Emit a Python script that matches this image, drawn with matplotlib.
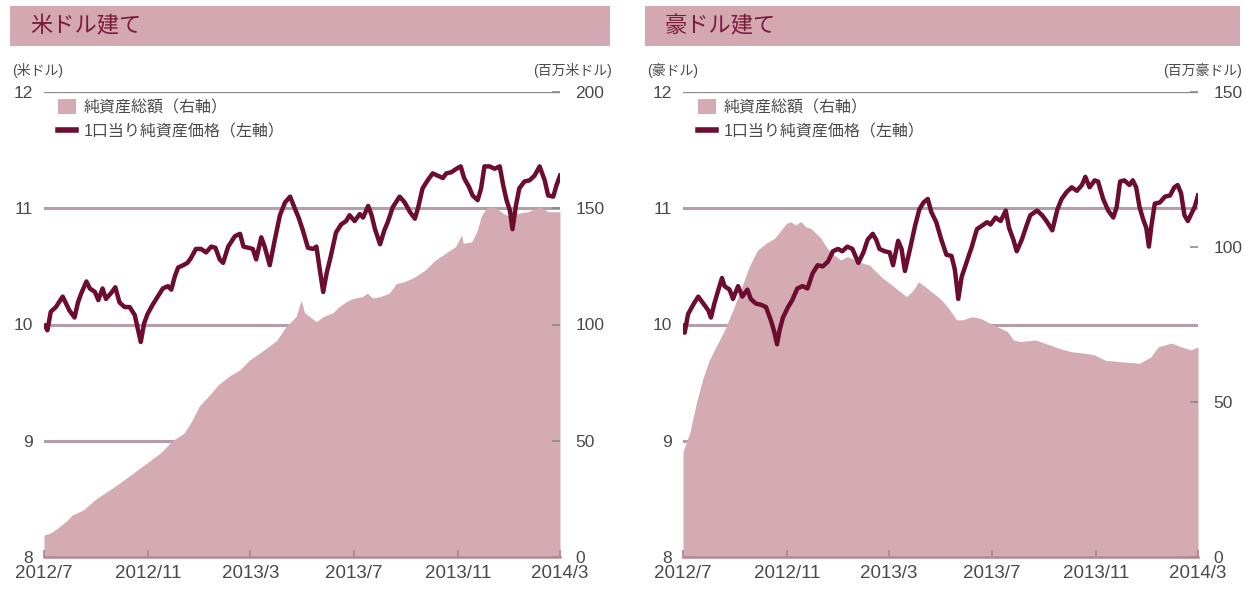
import matplotlib
matplotlib.use('Agg')
import matplotlib.pyplot as plt
import pandas as pd
from matplotlib.patches import Patch, Rectangle
from matplotlib.lines import Line2D

plt.rcParams['font.family'] = ['Liberation Sans', 'Noto Sans CJK JP']

# ---------------- data ----------------
tick_dates = ['2012-07-01', '2012-11-01', '2013-03-01', '2013-07-01', '2013-11-01', '2014-03-01']
tick_labels = ['2012/7', '2012/11', '2013/3', '2013/7', '2013/11', '2014/3']

titles = ['米ドル建て', '豪ドル建て']
unit_left = ['(米ドル)', '(豪ドル)']
unit_right = ['(百万米ドル)', '(百万豪ドル)']
legend_labels = ['純資産総額（右軸）', '1口当り純資産価格（左軸）']

# US dollar: NAV per unit (left axis)
usd_nav_dates = ['2012-07-02', '2012-07-05', '2012-07-09', '2012-07-15', '2012-07-23', '2012-07-27',
                 '2012-07-31', '2012-08-06', '2012-08-10', '2012-08-14', '2012-08-20', '2012-08-24',
                 '2012-08-30', '2012-09-03', '2012-09-08', '2012-09-12', '2012-09-18', '2012-09-23',
                 '2012-09-28', '2012-10-04', '2012-10-10', '2012-10-16', '2012-10-19', '2012-10-23',
                 '2012-10-27', '2012-10-31', '2012-11-06', '2012-11-12', '2012-11-18', '2012-11-24',
                 '2012-11-28', '2012-12-02', '2012-12-06', '2012-12-12', '2012-12-17', '2012-12-21',
                 '2012-12-27', '2013-01-02', '2013-01-08', '2013-01-14', '2013-01-19', '2013-01-24',
                 '2013-01-28', '2013-02-03', '2013-02-11', '2013-02-17', '2013-02-21', '2013-02-27',
                 '2013-03-04', '2013-03-08', '2013-03-14', '2013-03-18', '2013-03-24', '2013-03-30',
                 '2013-04-05', '2013-04-11', '2013-04-17', '2013-04-23', '2013-04-27', '2013-05-02',
                 '2013-05-08', '2013-05-14', '2013-05-18', '2013-05-22', '2013-05-26', '2013-05-30',
                 '2013-06-04', '2013-06-10', '2013-06-16', '2013-06-22', '2013-06-26', '2013-07-02',
                 '2013-07-08', '2013-07-12', '2013-07-18', '2013-07-22', '2013-07-26', '2013-08-01',
                 '2013-08-06', '2013-08-10', '2013-08-16', '2013-08-24', '2013-08-30', '2013-09-05',
                 '2013-09-11', '2013-09-15', '2013-09-20', '2013-09-26', '2013-10-02', '2013-10-08',
                 '2013-10-14', '2013-10-18', '2013-10-24', '2013-10-30', '2013-11-04', '2013-11-08',
                 '2013-11-14', '2013-11-18', '2013-11-24', '2013-11-28', '2013-12-02', '2013-12-08',
                 '2013-12-14', '2013-12-20', '2013-12-24', '2013-12-28', '2014-01-01', '2014-01-04',
                 '2014-01-08', '2014-01-12', '2014-01-18', '2014-01-24', '2014-01-30', '2014-02-05',
                 '2014-02-11', '2014-02-15', '2014-02-21', '2014-02-25', '2014-03-01']
usd_nav_values = [9.99, 9.95, 10.11, 10.15, 10.24, 10.18,
                  10.12, 10.06, 10.19, 10.27, 10.37, 10.31,
                  10.28, 10.21, 10.31, 10.22, 10.27, 10.32,
                  10.19, 10.15, 10.15, 10.08, 9.98, 9.85,
                  10.01, 10.09, 10.17, 10.24, 10.31, 10.33,
                  10.30, 10.41, 10.49, 10.51, 10.53, 10.57,
                  10.65, 10.65, 10.62, 10.67, 10.66, 10.56,
                  10.53, 10.67, 10.76, 10.78, 10.67, 10.66,
                  10.65, 10.56, 10.75, 10.67, 10.51, 10.73,
                  10.94, 11.05, 11.10, 10.99, 10.92, 10.81,
                  10.66, 10.65, 10.67, 10.47, 10.28, 10.44,
                  10.59, 10.79, 10.86, 10.89, 10.94, 10.89,
                  10.95, 10.92, 11.02, 10.94, 10.82, 10.69,
                  10.81, 10.88, 11.01, 11.10, 11.05, 10.97,
                  10.91, 11.01, 11.17, 11.24, 11.30, 11.28,
                  11.26, 11.30, 11.31, 11.34, 11.36, 11.26,
                  11.18, 11.11, 11.07, 11.17, 11.36, 11.36,
                  11.34, 11.36, 11.20, 11.07, 10.98, 10.82,
                  11.02, 11.17, 11.23, 11.24, 11.28, 11.36,
                  11.24, 11.11, 11.10, 11.20, 11.28]

# US dollar: total net assets (right axis, million USD)
usd_aum_dates = ['2012-07-01', '2012-07-08', '2012-07-17', '2012-07-29', '2012-08-03', '2012-08-16',
                 '2012-09-01', '2012-09-20', '2012-10-09', '2012-10-30', '2012-11-15', '2012-11-29',
                 '2012-12-13', '2012-12-22', '2012-12-31', '2013-01-13', '2013-01-22', '2013-02-05',
                 '2013-02-17', '2013-02-28', '2013-03-12', '2013-04-01', '2013-04-12', '2013-04-24',
                 '2013-04-30', '2013-05-04', '2013-05-10', '2013-05-18', '2013-05-26', '2013-06-06',
                 '2013-06-14', '2013-06-22', '2013-06-30', '2013-07-11', '2013-07-17', '2013-07-23',
                 '2013-08-01', '2013-08-12', '2013-08-20', '2013-08-30', '2013-09-11', '2013-09-23',
                 '2013-10-05', '2013-10-17', '2013-10-29', '2013-11-05', '2013-11-07', '2013-11-17',
                 '2013-11-23', '2013-11-28', '2013-12-04', '2013-12-10', '2013-12-16', '2013-12-24',
                 '2014-01-01', '2014-01-10', '2014-01-22', '2014-02-01', '2014-02-06', '2014-02-15',
                 '2014-03-01']
usd_aum_values = [9.5, 10.2, 12.4, 16.0, 18.0, 20.2,
                  25.2, 29.7, 34.7, 40.4, 44.7, 49.9,
                  53.3, 58.4, 65.0, 70.0, 74.0, 78.0,
                  80.5, 84.7, 87.7, 93.1, 99.0, 103.4,
                  110.5, 105.0, 103.4, 101.2, 103.4, 105.0,
                  107.7, 109.8, 111.2, 112.0, 113.5, 111.4,
                  112.0, 113.5, 117.6, 118.4, 120.5, 123.4,
                  127.7, 130.6, 133.5, 138.5, 134.9, 135.6,
                  139.9, 146.4, 150.0, 150.7, 150.0, 147.8,
                  146.4, 147.8, 148.5, 150.0, 150.7, 148.5,
                  148.5]

# Australian dollar: NAV per unit (left axis)
aud_nav_dates = ['2012-07-01', '2012-07-03', '2012-07-07', '2012-07-13', '2012-07-19', '2012-07-25',
                 '2012-07-31', '2012-08-03', '2012-08-07', '2012-08-11', '2012-08-16', '2012-08-19',
                 '2012-08-25', '2012-08-29', '2012-09-04', '2012-09-09', '2012-09-15', '2012-09-19',
                 '2012-09-25', '2012-10-01', '2012-10-07', '2012-10-13', '2012-10-17', '2012-10-20',
                 '2012-10-23', '2012-10-27', '2012-11-02', '2012-11-07', '2012-11-13', '2012-11-19',
                 '2012-11-25', '2012-12-01', '2012-12-07', '2012-12-13', '2012-12-19', '2012-12-25',
                 '2012-12-31', '2013-01-05', '2013-01-11', '2013-01-17', '2013-01-24', '2013-01-30',
                 '2013-02-04', '2013-02-10', '2013-02-14', '2013-02-18', '2013-02-24', '2013-03-02',
                 '2013-03-06', '2013-03-12', '2013-03-16', '2013-03-20', '2013-03-26', '2013-04-01',
                 '2013-04-06', '2013-04-11', '2013-04-16', '2013-04-20', '2013-04-26', '2013-05-02',
                 '2013-05-08', '2013-05-14', '2013-05-18', '2013-05-22', '2013-05-26', '2013-06-01',
                 '2013-06-07', '2013-06-13', '2013-06-19', '2013-06-25', '2013-06-29', '2013-07-05',
                 '2013-07-11', '2013-07-17', '2013-07-21', '2013-07-26', '2013-07-30', '2013-08-05',
                 '2013-08-11', '2013-08-15', '2013-08-23', '2013-08-29', '2013-09-04', '2013-09-10',
                 '2013-09-16', '2013-09-21', '2013-09-27', '2013-10-03', '2013-10-09', '2013-10-15',
                 '2013-10-19', '2013-10-24', '2013-10-30', '2013-11-03', '2013-11-09', '2013-11-15',
                 '2013-11-21', '2013-11-25', '2013-11-29', '2013-12-04', '2013-12-10', '2013-12-14',
                 '2013-12-18', '2013-12-22', '2013-12-26', '2013-12-30', '2014-01-02', '2014-01-05',
                 '2014-01-09', '2014-01-15', '2014-01-21', '2014-01-27', '2014-02-01', '2014-02-05',
                 '2014-02-09', '2014-02-13', '2014-02-17', '2014-02-21', '2014-02-25', '2014-03-01']
aud_nav_values = [9.99, 9.93, 10.09, 10.17, 10.24, 10.18,
                  10.12, 10.06, 10.18, 10.28, 10.40, 10.33,
                  10.30, 10.22, 10.33, 10.24, 10.30, 10.22,
                  10.18, 10.17, 10.15, 10.03, 9.93, 9.83,
                  9.95, 10.06, 10.15, 10.21, 10.31, 10.33,
                  10.31, 10.44, 10.51, 10.50, 10.54, 10.63,
                  10.65, 10.63, 10.67, 10.65, 10.53, 10.62,
                  10.73, 10.78, 10.73, 10.65, 10.63, 10.62,
                  10.51, 10.72, 10.65, 10.46, 10.65, 10.85,
                  10.99, 11.05, 11.08, 10.97, 10.88, 10.73,
                  10.60, 10.59, 10.47, 10.22, 10.41, 10.54,
                  10.67, 10.82, 10.85, 10.88, 10.86, 10.92,
                  10.89, 10.98, 10.83, 10.73, 10.63, 10.73,
                  10.86, 10.94, 10.98, 10.94, 10.88, 10.81,
                  10.99, 11.08, 11.14, 11.18, 11.15, 11.20,
                  11.27, 11.18, 11.24, 11.23, 11.08, 10.98,
                  10.92, 11.01, 11.23, 11.24, 11.20, 11.24,
                  11.18, 11.01, 10.91, 10.83, 10.67, 10.85,
                  11.04, 11.05, 11.10, 11.11, 11.18, 11.20,
                  11.13, 10.94, 10.89, 10.95, 11.01, 11.11]

# Australian dollar: total net assets (right axis, million AUD)
aud_aum_dates = ['2012-07-01', '2012-07-09', '2012-07-17', '2012-07-25', '2012-08-01', '2012-08-09',
                 '2012-08-19', '2012-08-29', '2012-09-07', '2012-09-17', '2012-09-27', '2012-10-07',
                 '2012-10-17', '2012-10-25', '2012-10-31', '2012-11-05', '2012-11-11', '2012-11-17',
                 '2012-11-23', '2012-11-29', '2012-12-05', '2012-12-11', '2012-12-17', '2012-12-23',
                 '2012-12-29', '2013-01-03', '2013-01-11', '2013-01-21', '2013-01-30', '2013-02-06',
                 '2013-02-14', '2013-02-22', '2013-03-02', '2013-03-12', '2013-03-22', '2013-03-30',
                 '2013-04-05', '2013-04-13', '2013-04-20', '2013-04-28', '2013-05-06', '2013-05-12',
                 '2013-05-20', '2013-05-27', '2013-06-07', '2013-06-17', '2013-06-25', '2013-07-02',
                 '2013-07-11', '2013-07-19', '2013-07-26', '2013-08-03', '2013-08-21', '2013-09-02',
                 '2013-09-18', '2013-10-03', '2013-10-19', '2013-10-30', '2013-11-11', '2013-11-29',
                 '2013-12-22', '2014-01-04', '2014-01-13', '2014-01-29', '2014-02-09', '2014-02-21',
                 '2014-03-01']
aud_aum_values = [34.0, 40.0, 50.0, 58.0, 63.5, 67.8,
                  73.2, 79.7, 86.1, 93.6, 99.0, 101.2,
                  102.8, 105.5, 107.6, 108.2, 107.1, 108.2,
                  106.5, 106.0, 104.4, 102.8, 100.1, 98.0,
                  96.9, 95.8, 96.9, 95.8, 94.7, 94.2,
                  92.0, 89.9, 88.3, 86.1, 84.0, 86.1,
                  88.8, 87.2, 85.6, 84.0, 81.8, 79.7,
                  76.5, 76.5, 77.5, 77.0, 75.9, 74.8,
                  73.8, 72.7, 70.0, 69.5, 70.0, 68.9,
                  67.3, 66.2, 65.7, 65.2, 63.5, 63.0,
                  62.5, 64.5, 67.8, 69.0, 67.8, 66.8,
                  67.8]

right_max = [200, 150]
right_ticks = [[0, 50, 100, 150, 200], [0, 50, 100, 150]]
left_ticks = [8, 9, 10, 11, 12]

# ---------------- style ----------------
AREA = '#d4aab3'
BAR = '#d3a8b1'
LINE = '#6c0c30'
GRID = '#b79ea6'
TOPGRID = '#8f8f8f'
AXIS = '#b8858f'
TXT = '#4a4a4a'
TITLE = '#7a1a3c'

W, H = 1245, 590
fig = plt.figure(figsize=(W / 100, H / 100), dpi=100)


def px(x, y):
    return x / W, 1 - y / H


def panel(i, ax_left_px, ax_right_px, bar_left, bar_right, legend_px,
          nav_d, nav_v, aum_d, aum_v):
    l = ax_left_px / W
    w = (ax_right_px - ax_left_px) / W
    b = (H - 557) / H
    h = (557 - 92) / H
    ax = fig.add_axes([l, b, w, h])
    ax2 = ax.twinx()
    ax3 = ax.twinx()

    xmin = pd.Timestamp(tick_dates[0])
    xmax = pd.Timestamp(tick_dates[-1])
    for a in (ax, ax2, ax3):
        a.set_xlim(xmin, xmax)
        for s in a.spines.values():
            s.set_visible(False)

    # base: left scale, grid lines
    ax.set_ylim(left_ticks[0], left_ticks[-1])
    ax.set_yticks(left_ticks)
    ax.set_yticklabels([str(t) for t in left_ticks])
    ax.tick_params(axis='y', length=0, pad=8, labelsize=12.5, labelcolor=TXT)
    ax.tick_params(axis='x', length=0, labelbottom=False)
    ax.yaxis.grid(True, color=GRID, linewidth=2.2)
    gl = ax.get_ygridlines()
    gl[0].set_visible(False)
    gl[-1].set_color(TOPGRID)
    gl[-1].set_linewidth(1.0)

    # area on right scale
    ax2.fill_between(pd.to_datetime(aum_d), 0, aum_v, color=AREA, linewidth=0)
    ax2.set_ylim(0, right_max[i])
    ax2.set_yticks(right_ticks[i])
    ax2.tick_params(axis='y', direction='in', length=6, width=1.2, color='#8a8a8a',
                    pad=11, labelsize=12.5, labelcolor=TXT)

    # line on top, with x axis
    ax3.set_ylim(left_ticks[0], left_ticks[-1])
    ax3.set_yticks([])
    ax3.plot(pd.to_datetime(nav_d), nav_v, color=LINE, linewidth=3.2, solid_joinstyle='round')
    ax3.xaxis.set_visible(True)
    ax3.spines['bottom'].set_visible(True)
    ax3.spines['bottom'].set_color(AXIS)
    ax3.spines['bottom'].set_linewidth(1.8)
    ax3.set_xticks(pd.to_datetime(tick_dates))
    ax3.set_xticklabels(tick_labels)
    ax3.tick_params(axis='x', direction='in', length=5, width=1.3, color=AXIS,
                    pad=6, labelsize=13.5, labelcolor=TXT)

    handles = [Patch(facecolor=AREA, edgecolor='none'),
               Line2D([0], [0], color=LINE, linewidth=4)]
    ax3.legend(handles, legend_labels, loc='upper left',
               bbox_to_anchor=((legend_px - ax_left_px) / (ax_right_px - ax_left_px), 0.985),
               frameon=False, fontsize=11.5, handlelength=1.1, handleheight=1.1,
               handletextpad=0.5, labelspacing=0.55, borderaxespad=0, borderpad=0,
               labelcolor=TXT)

    # title bar
    x0, y0 = px(bar_left, 46)
    x1, _ = px(bar_right, 46)
    fig.add_artist(Rectangle((x0, y0), x1 - x0, 40 / H, transform=fig.transFigure,
                             facecolor=BAR, edgecolor='none', zorder=0))
    tx, ty = px(bar_left + 20, 27)
    fig.text(tx, ty, titles[i], fontsize=16, color=TITLE, ha='left', va='center')

    # unit labels
    ux, uy = px(bar_left + 2, 70)
    fig.text(ux, uy, unit_left[i], fontsize=10, color=TXT, ha='left', va='center')
    rx, ry = px(bar_right + 2, 70)
    fig.text(rx, ry, unit_right[i], fontsize=10, color=TXT, ha='right', va='center')


panel(0, 44, 560, 10, 610, 58, usd_nav_dates, usd_nav_values, usd_aum_dates, usd_aum_values)
panel(1, 683, 1198, 645, 1240, 698, aud_nav_dates, aud_nav_values, aud_aum_dates, aud_aum_values)

fig.savefig('out.png', dpi=100)
